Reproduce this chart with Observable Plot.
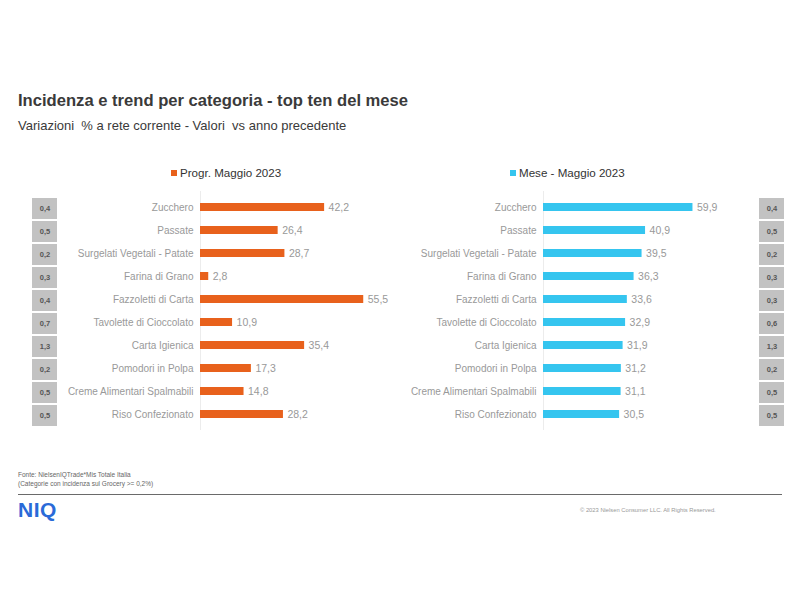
<!DOCTYPE html>
<html><head><meta charset="utf-8">
<script src="https://cdn.jsdelivr.net/npm/d3@7"></script>
<script src="https://cdn.jsdelivr.net/npm/@observablehq/plot@0.6"></script>
<style>
body{margin:0;background:#fff;font-family:"Liberation Sans",Arial,sans-serif;}
#wrap{position:relative;width:800px;height:600px;overflow:hidden;background:#fff;}
.abs{position:absolute;white-space:pre;}
</style></head><body><div id="wrap"></div>
<script>
const categorie = ["Zucchero","Passate","Surgelati Vegetali - Patate","Farina di Grano","Fazzoletti di Carta","Tavolette di Cioccolato","Carta Igienica","Pomodori in Polpa","Creme Alimentari Spalmabili","Riso Confezionato"];
const progr = [42.2,26.4,28.7,2.8,55.5,10.9,35.4,17.3,14.8,28.2];
const incProgr = [0.4,0.5,0.2,0.3,0.4,0.7,1.3,0.2,0.5,0.5];
const mese = [59.9,40.9,39.5,36.3,33.6,32.9,31.9,31.2,31.1,30.5];
const incMese = [0.4,0.5,0.2,0.3,0.3,0.6,1.3,0.2,0.5,0.5];
const seriesNames = ["Progr. Maggio 2023","Mese - Maggio 2023"];
const seriesColors = ["#E8611C","#35C5EF"];

const wrap = document.getElementById("wrap");
const fmt = v => v.toFixed(1).replace(".", ",");
const font = '"Liberation Sans", Arial, sans-serif';

function place(el, left, top){
  el.classList.add("abs");
  el.style.left = left + "px";
  el.style.top = top + "px";
  wrap.appendChild(el);
  return el;
}
function textDiv(txt, left, top, css){
  const d = document.createElement("div");
  d.textContent = txt;
  d.style.cssText = css;
  return place(d, left, top);
}

function barChart(values, color, xMax, marginLeft){
  const data = categorie.map((c,i)=>({c, v: values[i]}));
  return Plot.plot({
    width: 400, height: 239,
    marginLeft, marginRight: 0, marginTop: 0, marginBottom: 0,
    x: {domain: [0, xMax], axis: null},
    y: {domain: categorie, paddingInner: 0.66, paddingOuter: 0.33, axis: null},
    style: {fontFamily: font, fontSize: "10px", background: "transparent", overflow: "visible"},
    marks: [
      Plot.ruleX([0], {stroke: "#ececec"}),
      Plot.barX(data, {x: "v", y: "c", fill: color}),
      Plot.text(data, {x: "v", y: "c", text: d => fmt(d.v), textAnchor: "start", dx: 4, fill: "#999", fontSize: 10.5}),
      Plot.axisY({tickSize: 0, tickPadding: 7, fill: "#999", fontSize: 10, label: null})
    ]
  });
}

function incCells(values){
  const data = categorie.map((c,i)=>({c, v: values[i]}));
  return Plot.plot({
    width: 25, height: 236,
    margin: 0,
    x: {domain: ["i"], axis: null, padding: 0},
    y: {domain: categorie, paddingInner: 0.07, paddingOuter: 0.035, axis: null},
    style: {fontFamily: font, background: "transparent"},
    marks: [
      Plot.cell(data, {x: () => "i", y: "c", fill: "#c2c2c2"}),
      Plot.text(data, {x: () => "i", y: "c", text: d => fmt(d.v), fill: "#555", fontSize: 7.5, fontWeight: "bold"})
    ]
  });
}

// Title & subtitle
textDiv("Incidenza e trend per categoria - top ten del mese", 18, 91, "font-size:16.6px;line-height:20px;font-weight:bold;color:#3a3a3a;");
textDiv("Variazioni  % a rete corrente - Valori  vs anno precedente", 18, 118, "font-size:13px;line-height:16px;color:#3a3a3a;");

// Legends
function legend(name, color, left){
  const d = document.createElement("div");
  d.style.cssText = "font-size:11.6px;line-height:14px;color:#333;display:flex;align-items:center;";
  const sw = document.createElement("span");
  sw.style.cssText = `display:inline-block;width:6px;height:6px;background:${color};margin-right:3px;`;
  d.appendChild(sw);
  d.appendChild(document.createTextNode(name));
  place(d, left, 166);
}
legend(seriesNames[0], seriesColors[0], 171);
legend(seriesNames[1], seriesColors[1], 510);

// Panels
place(incCells(incProgr), 32, 194);
place(barChart(progr, seriesColors[0], 68, 200), 0, 191);
place(barChart(mese, seriesColors[1], 103, 143), 400, 191);
place(incCells(incMese), 759, 194);

// Footer
textDiv("Fonte: NielsenIQTrade*Mis Totale Italia", 18, 471, "font-size:6.5px;line-height:8px;color:#666;");
textDiv("(Categorie con incidenza sul Grocery >= 0,2%)", 18, 480, "font-size:6.5px;line-height:8px;color:#666;");
const line = document.createElement("div");
line.style.cssText = "width:764px;height:1px;background:#6a6a6a;";
place(line, 18, 494);
textDiv("NIQ", 18, 498, "font-size:21px;line-height:24px;font-weight:bold;color:#2a6ad8;letter-spacing:0.5px;");
textDiv("© 2023 Nielsen Consumer LLC. All Rights Reserved.", 580, 507, "font-size:5.8px;line-height:7px;color:#999;");
</script></body></html>
